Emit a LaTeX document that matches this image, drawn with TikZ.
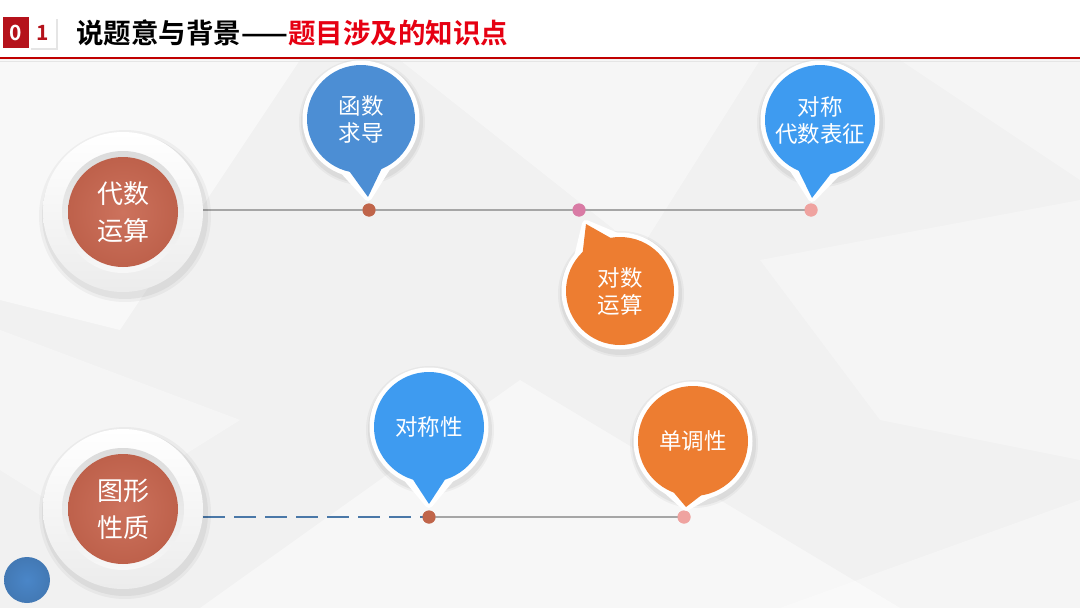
\documentclass[tikz,border=0pt]{standalone}
\usepackage{fontspec}
\newfontfamily\cjk{Noto Sans CJK SC}
\newfontfamily\cjkb{Noto Sans CJK SC Bold}
\usetikzlibrary{calc}
\definecolor{bgc}{HTML}{F1F1F1}
\definecolor{hdred}{HTML}{B5121B}
\definecolor{titred}{HTML}{E60012}
\definecolor{lnred}{HTML}{C00000}
\definecolor{blueA}{HTML}{4C8ED4}
\definecolor{blueB}{HTML}{3E9BF0}
\definecolor{orng}{HTML}{ED7D31}
\definecolor{discred}{HTML}{C8664F}
\definecolor{dotA}{HTML}{C0654A}
\definecolor{dotB}{HTML}{D97BA5}
\definecolor{dotC}{HTML}{EFA3A0}
\definecolor{dashblue}{HTML}{4A78A8}
\definecolor{smallblue}{HTML}{4A86C8}
\definecolor{linegray}{HTML}{A6A6A6}
\tikzset{
  bubtext/.style={text=white,font=\cjk\fontsize{22.5}{27}\selectfont,align=center,inner sep=0pt},
  disctext/.style={text=white,font=\cjk\fontsize{26}{37}\selectfont,align=center,inner sep=0pt},
  axisline/.style={draw=linegray,line width=2pt},
  dashline/.style={draw=dashblue,line width=2pt,dash pattern=on 22pt off 9pt},
  dotmark/.style={circle,inner sep=0pt,minimum size=13pt},
}
\newcommand\mybubble[6]{% name, center, radius, tip, color, text
  \coordinate (#1c) at #2;
  \coordinate (#1t) at #4;
  \fill[black,opacity=0.05] ($(#1c)+(1,3)$) circle (#3+7);
  \fill[black,opacity=0.04] ($(#1c)+(1,3)$) circle (#3+9);
  \filldraw[white,line width=8pt,line join=round] ($(#1c)!#3pt!24:(#1t)$) -- (#1t) -- ($(#1c)!#3pt!-24:(#1t)$) -- cycle;
  \fill[white] (#1c) circle (#3+4.5);
  \fill[#5] (#1c) circle (#3);
  \fill[#5] ($(#1c)!#3pt-3pt!21:(#1t)$) -- (#1t) -- ($(#1c)!#3pt-3pt!-21:(#1t)$) -- cycle;
  \node[bubtext] (#1) at (#1c) {#6};
}
\newcommand\bigdisc[3]{% name, center, text
  \coordinate (#1c) at #2;
  \fill[black,opacity=0.05] ($(#1c)+(2,4)$) circle (83);
  \fill[black,opacity=0.04] ($(#1c)+(2,4)$) circle (86);
  \shade[top color=white,bottom color=gray!15] (#1c) circle (80);
  \shade[top color=gray!28,bottom color=gray!6] (#1c) circle (61);
  \shade[inner color=discred!92!white,outer color=discred!95!black] (#1c) circle (55);
  \node[disctext] (#1) at (#1c) {#3};
}
\begin{document}
\begin{tikzpicture}[x=1pt,y=-1pt]
\useasboundingbox (0,0) rectangle (1080,608);
% background
\fill[bgc] (0,0) rectangle (1080,608);
\fill[white,opacity=0.5] (0,60) -- (300,60) -- (120,330) -- (0,300) -- cycle;
\fill[white,opacity=0.4] (400,60) -- (760,60) -- (640,250) -- cycle;
\fill[white,opacity=0.45] (200,608) -- (520,380) -- (900,608) -- cycle;
\fill[white,opacity=0.3] (760,260) -- (1080,200) -- (1080,460) -- (880,420) -- cycle;
\fill[white,opacity=0.35] (0,330) -- (240,420) -- (80,520) -- (0,470) -- cycle;
\fill[white,opacity=0.3] (900,60) -- (1080,60) -- (1080,180) -- cycle;
\fill[white,opacity=0.35] (780,608) -- (1080,500) -- (1080,608) -- cycle;
% header
\fill[white] (0,0) rectangle (1080,57);
\fill[black,opacity=0.10] (31,19) rectangle (58,50);
\fill[hdred] (3,17) rectangle (29,48);
\fill[white] (30,17) rectangle (56,48);
\node[text=white,font=\cjkb\fontsize{21}{21}\selectfont,inner sep=0pt] (n0) at (16,33) {0};
\node[text=hdred,font=\cjkb\fontsize{21}{21}\selectfont,inner sep=0pt] (n1) at (43,33) {1};
\node[anchor=west,inner sep=0pt,font=\cjkb\fontsize{27.5}{30}\selectfont] (title) at (76,33) {说题意与背景——\textcolor{titred}{题目涉及的知识点}};
\draw[lnred,line width=2.5pt] (0,58) -- (1080,58);
\draw[gray!20,line width=1pt] (0,61) -- (1080,61);
% small circle
\shade[inner color=smallblue,outer color=smallblue!90!black] (27,580) circle (23);
\node[circle,inner sep=0pt,minimum size=46pt] (sc) at (27,580) {};
% lines
\coordinate (l1s) at (203,210);
\coordinate (l2s) at (203,517);
\node[dotmark,fill=dotA] (d1) at (369,210) {};
\node[dotmark,fill=dotB] (d2) at (579,210) {};
\node[dotmark,fill=dotC] (d3) at (811,210) {};
\node[dotmark,fill=dotA] (d4) at (429,517) {};
\node[dotmark,fill=dotC] (d5) at (684,517) {};
\draw[axisline] (l1s) -- (d3.center);
\draw[dashline] (l2s) -- (d4.center);
\draw[axisline] (d4.center) -- (d5.center);
% big discs
\bigdisc{da}{(123,212)}{代数\\运算}
\bigdisc{db}{(123,509)}{图形\\性质}
% bubbles
\mybubble{ba}{(361,119)}{54}{(368,197)}{blueA}{函数\\求导}
\mybubble{bb}{(820,120)}{55}{(812,198)}{blueB}{对称\\代数表征}
\mybubble{bc}{(620,291)}{54}{(586,224)}{orng}{对数\\运算}
\mybubble{bd}{(429,427)}{55}{(429,504)}{blueB}{对称性}
\mybubble{be}{(693,441)}{55}{(686,507)}{orng}{单调性}
% dots on top
\node[dotmark,fill=dotA] at (d1) {};
\node[dotmark,fill=dotB] at (d2) {};
\node[dotmark,fill=dotC] at (d3) {};
\node[dotmark,fill=dotA] at (d4) {};
\node[dotmark,fill=dotC] at (d5) {};
\end{tikzpicture}
\end{document}
